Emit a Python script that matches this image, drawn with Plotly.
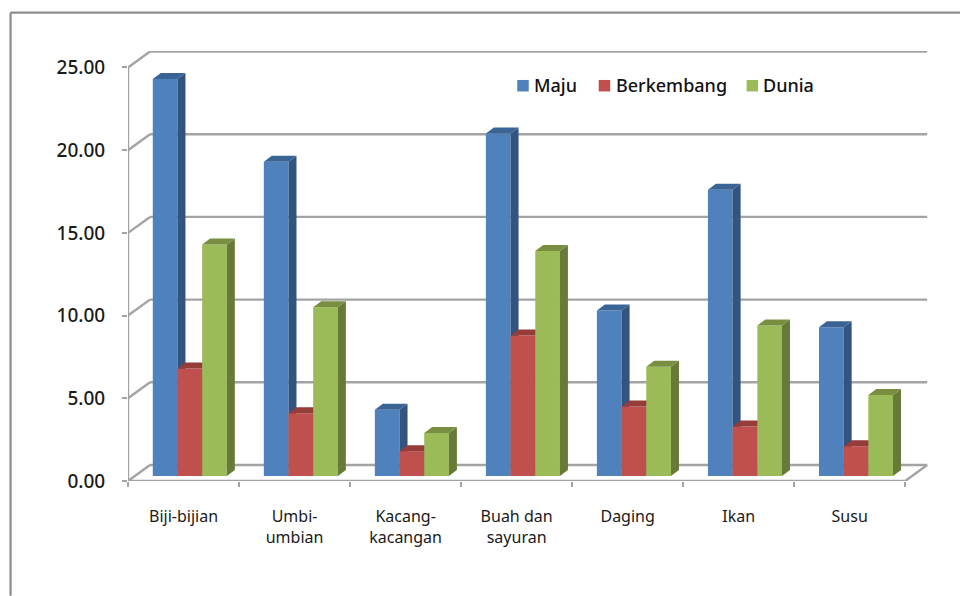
import plotly.graph_objects as go

categories = ["Biji-bijian", "Umbi-<br>umbian", "Kacang-<br>kacangan", "Buah dan<br>sayuran", "Daging", "Ikan", "Susu"]
maju = [24.0, 19.0, 4.0, 20.7, 10.0, 17.3, 9.0]
berkembang = [6.5, 3.8, 1.5, 8.5, 4.2, 3.0, 1.8]
dunia = [14.0, 10.2, 2.6, 13.6, 6.6, 9.1, 4.9]
y_ticks = [0, 5, 10, 15, 20, 25]

FRONT = ["#4F81BD", "#C0504D", "#9BBB59"]
SIDE = ["#32547F", "#8A3735", "#677A38"]
TOP = ["#3A6496", "#963D3A", "#788F42"]
GRID = "#A3A3A3"
FRAME = "#8C8C8C"
TEXT = "#1A1A1A"

# page geometry (pixels)
W, H = 960, 596
L, R, T, B = 127.5, 928.0, 50.5, 481.0
CAT_PX = 111.1
UNIT_PX = 16.56
x_max = (R - L) / CAT_PX
y_max = (B - T) / UNIT_PX
DX, DY = 22 / CAT_PX, 16 / UNIT_PX          # floor depth
BX, BY = 8 / CAT_PX, 6 / UNIT_PX            # bar depth
BAR_W = 24.7 / CAT_PX
BASE = 5 / UNIT_PX
GROUP_LEFT = 24.8 / CAT_PX


def px(x):
    return (x - L) / (R - L)


def py(y):
    return (B - y) / (B - T)


series = [("Maju", maju), ("Berkembang", berkembang), ("Dunia", dunia)]
fig = go.Figure()

for s, (name, vals) in enumerate(series):
    ax = "" if s == 0 else str(s + 1)
    xa, ya = "x" + ax, "y" + ax
    lefts = [i + GROUP_LEFT + s * BAR_W for i in range(len(vals))]
    fig.add_trace(go.Bar(
        x=[l + BAR_W / 2 for l in lefts], y=vals, base=BASE, width=BAR_W, name=name,
        marker=dict(color=FRONT[s], line=dict(width=0)), xaxis=xa, yaxis=ya,
        showlegend=False, customdata=categories,
        hovertemplate="%{customdata}: %{y:.2f}<extra>" + name + "</extra>",
    ))
    sx, sy, tx, ty = [], [], [], []
    for l, v in zip(lefts, vals):
        r = l + BAR_W
        top = BASE + v
        sx += [r, r + BX, r + BX, r, r, None]
        sy += [BASE, BASE + BY, top + BY, top, BASE, None]
        tx += [l, l + BX, r + BX, r, l, None]
        ty += [top, top + BY, top + BY, top, top, None]
    for xs, ys, col in ((sx, sy, SIDE[s]), (tx, ty, TOP[s])):
        fig.add_trace(go.Scatter(
            x=xs, y=ys, mode="lines", fill="toself", fillcolor=col,
            line=dict(width=0, color=col), hoverinfo="skip", showlegend=False,
            xaxis=xa, yaxis=ya,
        ))

shapes = []


def line(x0, y0, x1, y1, color=GRID, width=2.4, xref="x", yref="y"):
    shapes.append(dict(type="line", x0=x0, y0=y0, x1=x1, y1=y1, xref=xref, yref=yref,
                       layer="below", line=dict(color=color, width=width)))


n = len(categories)
for v in y_ticks:
    line(0, v, DX, v + DY)
    line(DX, v + DY, n + DX, v + DY)
line(0, 0, 0, y_ticks[-1])
line(0, 0, n, 0)
line(n, 0, n + DX, DY)

# outer frame
line(px(10), py(12), px(960), py(12), FRAME, 2.2, "paper", "paper")
line(px(10), py(12), px(10), py(596), FRAME, 2.2, "paper", "paper")

# legend
annotations = []
for (name, _), col, sq, tx in zip(series, FRONT, [517, 598.5, 746.5], [531.5, 613.5, 761]):
    shapes.append(dict(type="rect", xref="paper", yref="paper", x0=px(sq), x1=px(sq + 11.5),
                       y0=py(91), y1=py(79.5), fillcolor=col, line=dict(width=0), layer="above"))
    annotations.append(dict(text=name, xref="paper", yref="paper", x=px(tx), y=py(85),
                            xanchor="left", yanchor="middle", showarrow=False,
                            font=dict(family="Noto Sans", size=18, color="#111111", weight=500)))

xaxis_common = dict(range=[0, x_max], domain=[0, 1], showgrid=False, zeroline=False, showline=False)
yaxis_common = dict(range=[0, y_max], domain=[0, 1], showgrid=False, zeroline=False, showline=False)

fig.update_layout(
    width=W, height=H, margin=dict(l=L, r=W - R, t=T, b=H - B, autoexpand=False),
    paper_bgcolor="white", plot_bgcolor="rgba(0,0,0,0)", barmode="overlay", showlegend=False,
    shapes=shapes, annotations=annotations,
    xaxis=dict(**xaxis_common,
               tickmode="array", tickvals=[i + 0.5 for i in range(n)], ticktext=categories,
               ticks="", ticklabelstandoff=24,
               tickfont=dict(family="Noto Sans", size=16, color=TEXT),
               tickangle=0,
               minor=dict(tickmode="array", tickvals=list(range(n + 1)), ticks="outside",
                          ticklen=5, tickwidth=2, tickcolor=GRID)),
    yaxis=dict(**yaxis_common,
               tickmode="array", tickvals=y_ticks, ticktext=[f"{v:.2f}" for v in y_ticks],
               ticks="outside", ticklen=5, tickwidth=2, tickcolor=GRID, ticklabelstandoff=13,
               tickfont=dict(family="Noto Sans", size=19, color=TEXT, weight=500)),
    xaxis2=dict(**xaxis_common, overlaying="x", visible=False, anchor="y2"),
    yaxis2=dict(**yaxis_common, overlaying="y", visible=False, anchor="x2"),
    xaxis3=dict(**xaxis_common, overlaying="x", visible=False, anchor="y3"),
    yaxis3=dict(**yaxis_common, overlaying="y", visible=False, anchor="x3"),
)

fig.write_html("out.html", config=dict(displayModeBar=False),
               post_script="document.body.style.margin='0';document.documentElement.style.overflow='hidden';")
